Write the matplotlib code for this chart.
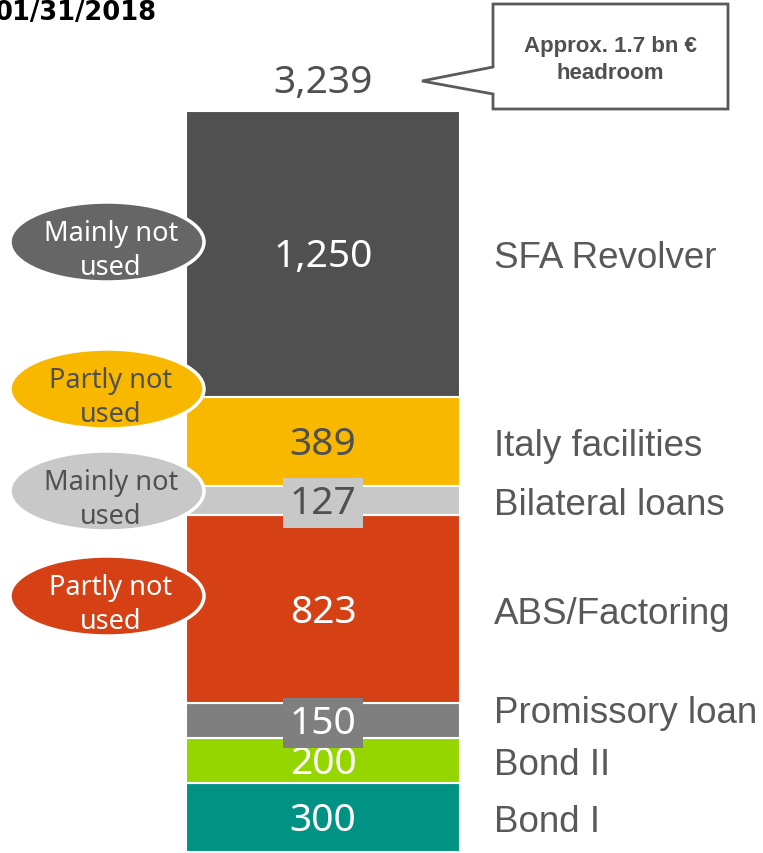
import matplotlib.pyplot as plt
from matplotlib.patches import Ellipse, Polygon

# data, bottom to top
names = ['Bond I', 'Bond II', 'Promissory loan', 'ABS/Factoring',
         'Bilateral loans', 'Italy facilities', 'SFA Revolver']
values = [300, 200, 150, 823, 127, 389, 1250]
colors = ['#009384', '#95d600', '#7f7f7f', '#d54015', '#c8c8c8', '#f9b800', '#505050']
num_colors = ['white', 'white', 'white', 'white', '#505050', '#505050', 'white']
boxed = [False, False, True, False, True, False, False]

# usage notes (ellipses on the left)
notes = ['Mainly not\nused', 'Partly not\nused', 'Mainly not\nused', 'Partly not\nused']
note_fc = ['#666666', '#f9b800', '#c8c8c8', '#d54015']
note_tc = ['white', '#505050', '#505050', 'white']
note_y = [243, 390, 492, 597]   # pixel rows

total = sum(values)
W, H = 763, 854
fig = plt.figure(figsize=(W / 100, H / 100), dpi=100)

ax = fig.add_axes([0, 0, 1, 1])
k = (853 - 112) / total        # px per unit
ax.set_xlim(0, W)
ax.set_ylim(-1 / k, (H - 1) / k)
ax.axis('off')

bar_x, bar_w = 323, 274
bottom = 0
for i, (n, v, c) in enumerate(zip(names, values, colors)):
    ax.bar(bar_x, v, width=bar_w, bottom=bottom, color=c,
           edgecolor='white', linewidth=1.5)
    mid = bottom + v / 2
    bb = dict(boxstyle='square,pad=0.16', fc=c, ec='none') if boxed[i] else None
    ax.text(bar_x, mid + 2 / k, f'{v:,}', ha='center', va='center_baseline',
            fontsize=28, color=num_colors[i], family='Noto Sans', bbox=bb)
    ly = mid + (12 / k if n == 'Promissory loan' else 0)
    ax.text(494, ly, n, ha='left', va='center_baseline', fontsize=26.5,
            color='#595959', family='Liberation Sans')
    bottom += v

ax.text(bar_x, total + 33 / k, f'{total:,}', ha='center', va='center_baseline',
        fontsize=28, color='#505050', family='Noto Sans')

# overlay in pixel coords for decorations
ov = fig.add_axes([0, 0, 1, 1], facecolor='none')
ov.set_xlim(0, W)
ov.set_ylim(H, 0)
ov.axis('off')

for t, fc, tc, y in zip(notes, note_fc, note_tc, note_y):
    ov.add_patch(Ellipse((107, y), 194, 80, fc=fc, ec='white', lw=2.5, zorder=3))
    ov.text(111, y + 8, t, ha='center', va='center', fontsize=19.5, color=tc,
            family='Noto Sans', linespacing=1.25, zorder=4)

callout = Polygon([(493, 5), (728, 5), (728, 110), (493, 110), (493, 95),
                   (422, 82), (493, 68)], closed=True, fc='white',
                  ec='#5a5a5a', lw=2, zorder=3)
ov.add_patch(callout)
ov.text(610, 60, 'Approx. 1.7 bn €\nheadroom', ha='center', va='center',
        fontsize=16, fontweight='bold', color='#505050', family='Liberation Sans',
        linespacing=1.4, zorder=4)

ov.text(157, 13, '01/31/2018', ha='right', va='center', fontsize=18.5,
        fontweight='bold', color='black', family='DejaVu Sans')

fig.savefig('out.png', dpi=100)
